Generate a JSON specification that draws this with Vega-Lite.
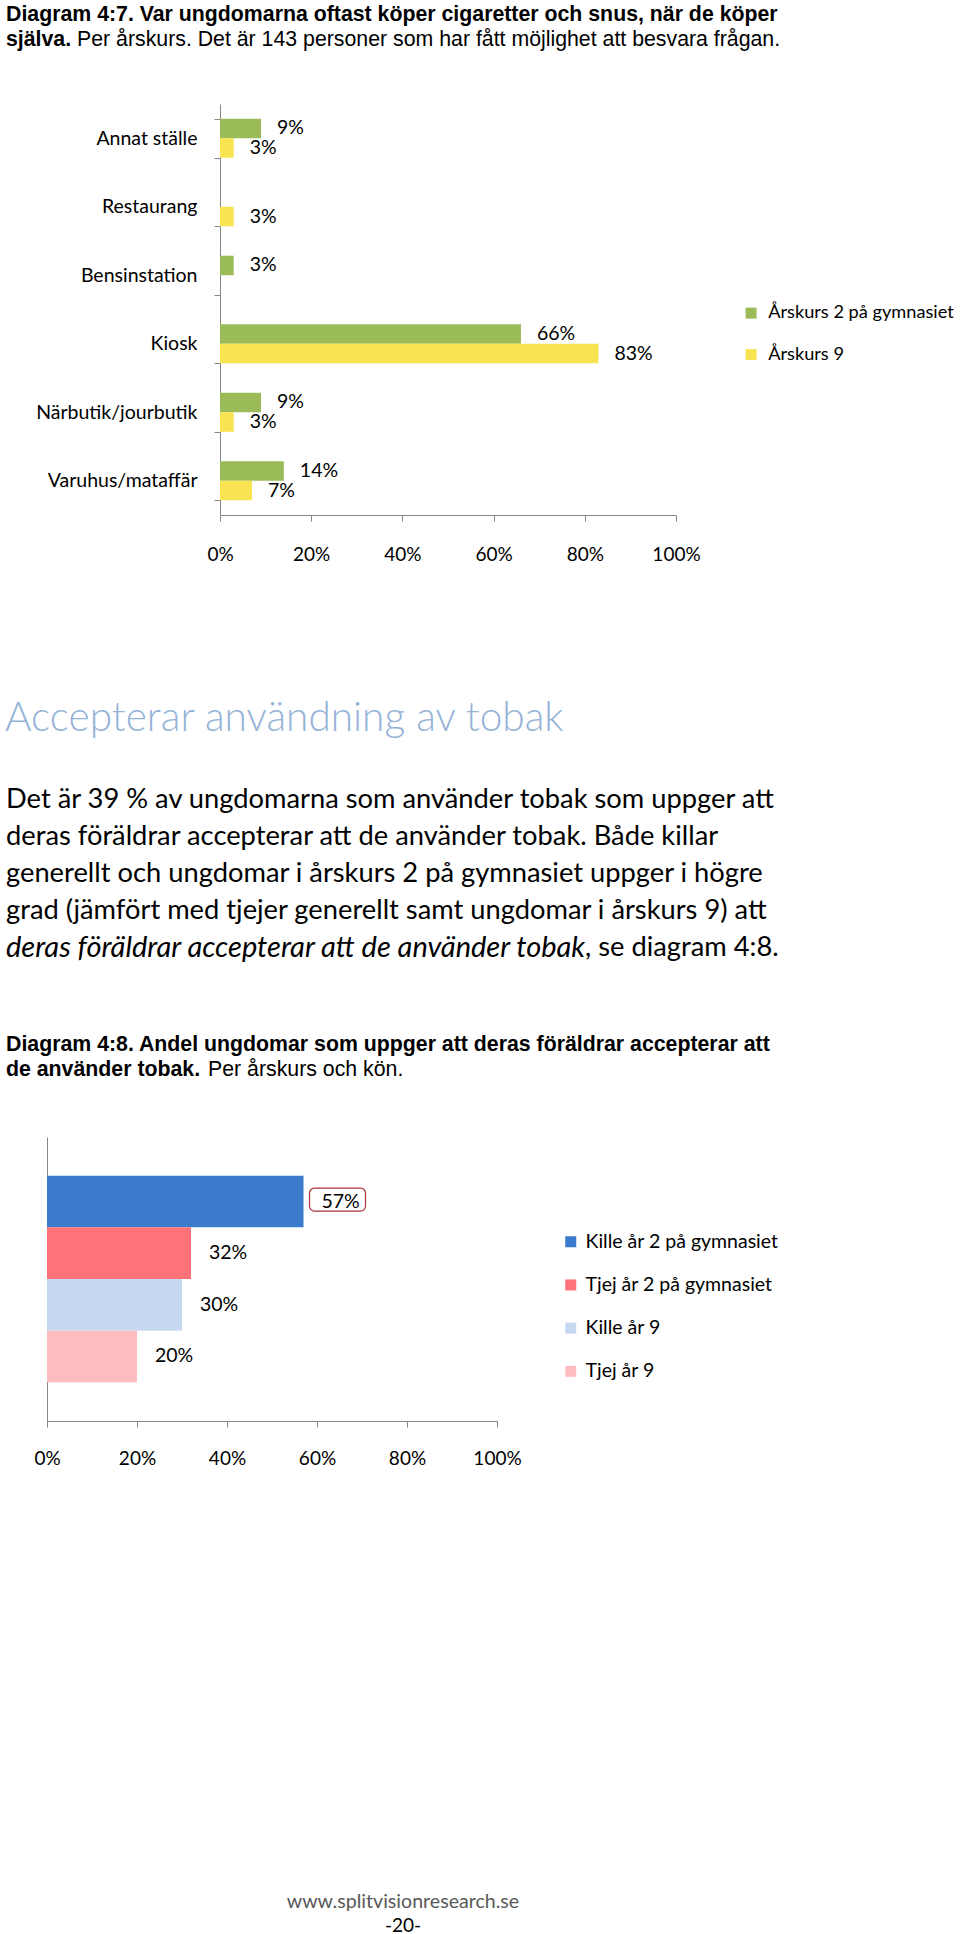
{
  "$schema": "https://vega.github.io/schema/vega-lite/v6.json",
  "padding": 0,
  "spacing": 0,
  "bounds": "flush",
  "background": "white",
  "resolve": {
    "scale": {"color": "independent", "x": "independent", "y": "independent"},
    "legend": {"color": "independent"}
  },
  "config": {
    "view": {"stroke": null},
    "font": "Lato",
    "axis": {"labelFont": "Lato", "labelColor": "#000000", "domainColor": "#868686", "tickColor": "#868686", "grid": false, "title": null, "labelFlush": false},
    "legend": {"labelFont": "Lato", "labelColor": "#000000", "labelLimit": 400}
  },
  "datasets": {
    "header": [
      {"line": 1, "part": "bold", "text": "Diagram 4:7. Var ungdomarna oftast köper cigaretter och snus, när de köper"},
      {"line": 2, "part": "bold", "text": "själva."},
      {"line": 2, "part": "normal", "text": "Per årskurs. Det är 143 personer som har fått möjlighet att besvara frågan."}
    ],
    "d1": [
      {"place": "Annat ställe", "grade": "Årskurs 2 på gymnasiet", "value": 0.09},
      {"place": "Annat ställe", "grade": "Årskurs 9", "value": 0.03},
      {"place": "Restaurang", "grade": "Årskurs 2 på gymnasiet", "value": 0},
      {"place": "Restaurang", "grade": "Årskurs 9", "value": 0.03},
      {"place": "Bensinstation", "grade": "Årskurs 2 på gymnasiet", "value": 0.03},
      {"place": "Bensinstation", "grade": "Årskurs 9", "value": 0},
      {"place": "Kiosk", "grade": "Årskurs 2 på gymnasiet", "value": 0.66},
      {"place": "Kiosk", "grade": "Årskurs 9", "value": 0.83},
      {"place": "Närbutik/jourbutik", "grade": "Årskurs 2 på gymnasiet", "value": 0.09},
      {"place": "Närbutik/jourbutik", "grade": "Årskurs 9", "value": 0.03},
      {"place": "Varuhus/mataffär", "grade": "Årskurs 2 på gymnasiet", "value": 0.14},
      {"place": "Varuhus/mataffär", "grade": "Årskurs 9", "value": 0.07}
    ],
    "heading": [{"line": 1, "text": "Accepterar användning av tobak"}],
    "para": [
      {"line": 1, "part": "normal", "text": "Det är 39 % av ungdomarna som använder tobak som uppger att"},
      {"line": 2, "part": "normal", "text": "deras föräldrar accepterar att de använder tobak. Både killar"},
      {"line": 3, "part": "normal", "text": "generellt och ungdomar i årskurs 2 på gymnasiet uppger i högre"},
      {"line": 4, "part": "normal", "text": "grad (jämfört med tjejer generellt samt ungdomar i årskurs 9) att"},
      {"line": 5, "part": "italic", "text": "deras föräldrar accepterar att de använder tobak"},
      {"line": 5, "part": "tail", "text": ", se diagram 4:8."}
    ],
    "caption": [
      {"line": 1, "part": "bold", "text": "Diagram 4:8. Andel ungdomar som uppger att deras föräldrar accepterar att"},
      {"line": 2, "part": "bold", "text": "de använder tobak."},
      {"line": 2, "part": "normal", "text": "Per årskurs och kön."}
    ],
    "d2": [
      {"group": "Kille år 2 på gymnasiet", "value": 0.57},
      {"group": "Tjej år 2 på gymnasiet", "value": 0.32},
      {"group": "Kille år 9", "value": 0.30},
      {"group": "Tjej år 9", "value": 0.20}
    ],
    "footer": [
      {"line": 1, "part": "url", "text": "www.splitvisionresearch.se"},
      {"line": 2, "part": "page", "text": "-20-"}
    ]
  },
  "vconcat": [
    {
      "width": 960, "height": 104,
      "data": {"name": "header"},
      "encoding": {
        "y": {"field": "line", "type": "quantitative", "axis": null, "scale": {"domain": [0.4, 4.56], "reverse": true, "zero": false, "nice": false}},
        "x": {"datum": 0, "type": "quantitative", "scale": {"domain": [0, 1]}, "axis": null},
        "text": {"field": "text"}
      },
      "layer": [
        {"transform": [{"filter": "datum.part == 'bold'"}], "mark": {"type": "text", "align": "left", "baseline": "middle", "dx": 6, "font": "Liberation Sans", "fontWeight": "bold", "fontSize": 21.3, "color": "#000000"}},
        {"transform": [{"filter": "datum.part == 'normal'"}], "mark": {"type": "text", "align": "left", "baseline": "middle", "dx": 77, "font": "Liberation Sans", "fontWeight": "normal", "fontSize": 21.3, "color": "#000000"}}
      ]
    },
    {
      "width": 960, "height": 411,
      "data": {"name": "d1"},
      "encoding": {
        "y": {"field": "place", "type": "nominal", "sort": ["Annat ställe", "Restaurang", "Bensinstation", "Kiosk", "Närbutik/jourbutik", "Varuhus/mataffär"], "scale": {"paddingInner": 0.43, "paddingOuter": 0.215}, "axis": {"offset": -220, "tickBand": "extent", "tickSize": 6, "labelPadding": 17, "labelFontSize": 19.5, "labelLimit": 300}},
        "yOffset": {"field": "grade", "type": "nominal", "sort": ["Årskurs 2 på gymnasiet", "Årskurs 9"], "scale": {"paddingInner": 0, "paddingOuter": 0}},
        "x": {"field": "value", "type": "quantitative", "scale": {"domain": [0, 1], "range": [220, 676]}, "axis": {"values": [0, 0.2, 0.4, 0.6, 0.8, 1], "format": ".0%", "tickSize": 6, "labelPadding": 24, "labelFontSize": 19}}
      },
      "layer": [
        {
          "mark": {"type": "bar"},
          "encoding": {
            "color": {"field": "grade", "type": "nominal", "scale": {"domain": ["Årskurs 2 på gymnasiet", "Årskurs 9"], "range": ["#9BBB59", "#F8E451"]},
              "legend": {"title": null, "orient": "none", "legendX": 742, "legendY": 200, "symbolType": "square", "symbolSize": 121, "symbolStrokeWidth": 0, "labelFontSize": 18.2, "rowPadding": 22.5, "labelOffset": 8, "padding": 0}}
          }
        },
        {
          "transform": [{"filter": "datum.value > 0"}],
          "mark": {"type": "text", "align": "left", "baseline": "middle", "dx": 16, "fontSize": 19.5, "color": "#000000"},
          "encoding": {"text": {"field": "value", "format": ".0%"}}
        }
      ]
    },
    {
      "width": 960, "height": 245,
      "data": {"name": "heading"},
      "encoding": {
        "y": {"field": "line", "type": "quantitative", "axis": null, "scale": {"domain": [-4.1, 2.025], "reverse": true, "zero": false, "nice": false}},
        "x": {"datum": 0, "type": "quantitative", "scale": {"domain": [0, 1]}, "axis": null},
        "text": {"field": "text"}
      },
      "mark": {"type": "text", "align": "left", "baseline": "middle", "dx": 5, "font": "Lato", "fontWeight": 300, "fontSize": 40.6, "color": "#95B3D7"}
    },
    {
      "width": 960, "height": 260,
      "data": {"name": "para"},
      "encoding": {
        "y": {"field": "line", "type": "quantitative", "axis": null, "scale": {"domain": [-0.0811, 6.946], "reverse": true, "zero": false, "nice": false}},
        "x": {"datum": 0, "type": "quantitative", "scale": {"domain": [0, 1]}, "axis": null},
        "text": {"field": "text"}
      },
      "layer": [
        {"transform": [{"filter": "datum.part == 'normal'"}], "mark": {"type": "text", "align": "left", "baseline": "middle", "dx": 6, "font": "Lato", "fontSize": 27.3, "color": "#000000"}},
        {"transform": [{"filter": "datum.part == 'italic'"}], "mark": {"type": "text", "align": "left", "baseline": "middle", "dx": 6, "font": "Lato", "fontStyle": "italic", "fontSize": 29, "color": "#000000"}},
        {"transform": [{"filter": "datum.part == 'tail'"}], "mark": {"type": "text", "align": "left", "baseline": "middle", "dx": 585, "font": "Lato", "fontSize": 27.3, "color": "#000000"}}
      ]
    },
    {
      "width": 960, "height": 117,
      "data": {"name": "caption"},
      "encoding": {
        "y": {"field": "line", "type": "quantitative", "axis": null, "scale": {"domain": [0, 4.68], "reverse": true, "zero": false, "nice": false}},
        "x": {"datum": 0, "type": "quantitative", "scale": {"domain": [0, 1]}, "axis": null},
        "text": {"field": "text"}
      },
      "layer": [
        {"transform": [{"filter": "datum.part == 'bold'"}], "mark": {"type": "text", "align": "left", "baseline": "middle", "dx": 6, "font": "Liberation Sans", "fontWeight": "bold", "fontSize": 21.3, "color": "#000000"}},
        {"transform": [{"filter": "datum.part == 'normal'"}], "mark": {"type": "text", "align": "left", "baseline": "middle", "dx": 208, "font": "Liberation Sans", "fontWeight": "normal", "fontSize": 21.3, "color": "#000000"}}
      ]
    },
    {
      "width": 960, "height": 284,
      "data": {"name": "d2"},
      "encoding": {
        "y": {"field": "group", "type": "nominal", "sort": ["Kille år 2 på gymnasiet", "Tjej år 2 på gymnasiet", "Kille år 9", "Tjej år 9"], "scale": {"paddingInner": 0, "paddingOuter": 0.75}, "axis": {"offset": -47, "labels": false, "ticks": false}},
        "x": {"field": "value", "type": "quantitative", "scale": {"domain": [0, 1], "range": [47, 497]}, "axis": {"values": [0, 0.2, 0.4, 0.6, 0.8, 1], "format": ".0%", "tickSize": 6, "labelPadding": 22, "labelFontSize": 19}}
      },
      "layer": [
        {
          "mark": {"type": "bar"},
          "encoding": {
            "color": {"field": "group", "type": "nominal", "scale": {"domain": ["Kille år 2 på gymnasiet", "Tjej år 2 på gymnasiet", "Kille år 9", "Tjej år 9"], "range": ["#3A7BCB", "#FE7278", "#C7D9F0", "#FDBCC0"]},
              "legend": {"title": null, "orient": "none", "legendX": 561, "legendY": 95, "symbolType": "square", "symbolSize": 121, "symbolStrokeWidth": 0, "labelFontSize": 19.5, "rowPadding": 22.2, "labelOffset": 5, "padding": 0}}
          }
        },
        {
          "transform": [{"filter": "datum.value > 0.5"}],
          "mark": {"type": "rect", "fill": null, "fillOpacity": 0, "stroke": "#A8343A", "strokeWidth": 1.2, "cornerRadius": 5, "xOffset": 6, "x2Offset": 62, "height": 23, "yOffset": -2},
          "encoding": {"x2": {"field": "value"}}
        },
        {
          "mark": {"type": "text", "align": "left", "baseline": "middle", "dx": 18, "fontSize": 19.5, "color": "#000000"},
          "encoding": {"text": {"field": "value", "format": ".0%"}}
        }
      ]
    },
    {
      "width": 960, "height": 513,
      "data": {"name": "footer"},
      "encoding": {
        "y": {"field": "line", "type": "quantitative", "axis": null, "scale": {"domain": [-19.0417, 2.3333], "reverse": true, "zero": false, "nice": false}},
        "x": {"datum": 0.4198, "type": "quantitative", "scale": {"domain": [0, 1]}, "axis": null},
        "text": {"field": "text"}
      },
      "layer": [
        {"transform": [{"filter": "datum.part == 'url'"}], "mark": {"type": "text", "align": "center", "baseline": "middle", "font": "Lato", "fontSize": 19.6, "color": "#595959"}},
        {"transform": [{"filter": "datum.part == 'page'"}], "mark": {"type": "text", "align": "center", "baseline": "middle", "font": "Lato", "fontSize": 19, "color": "#000000"}}
      ]
    }
  ]
}
